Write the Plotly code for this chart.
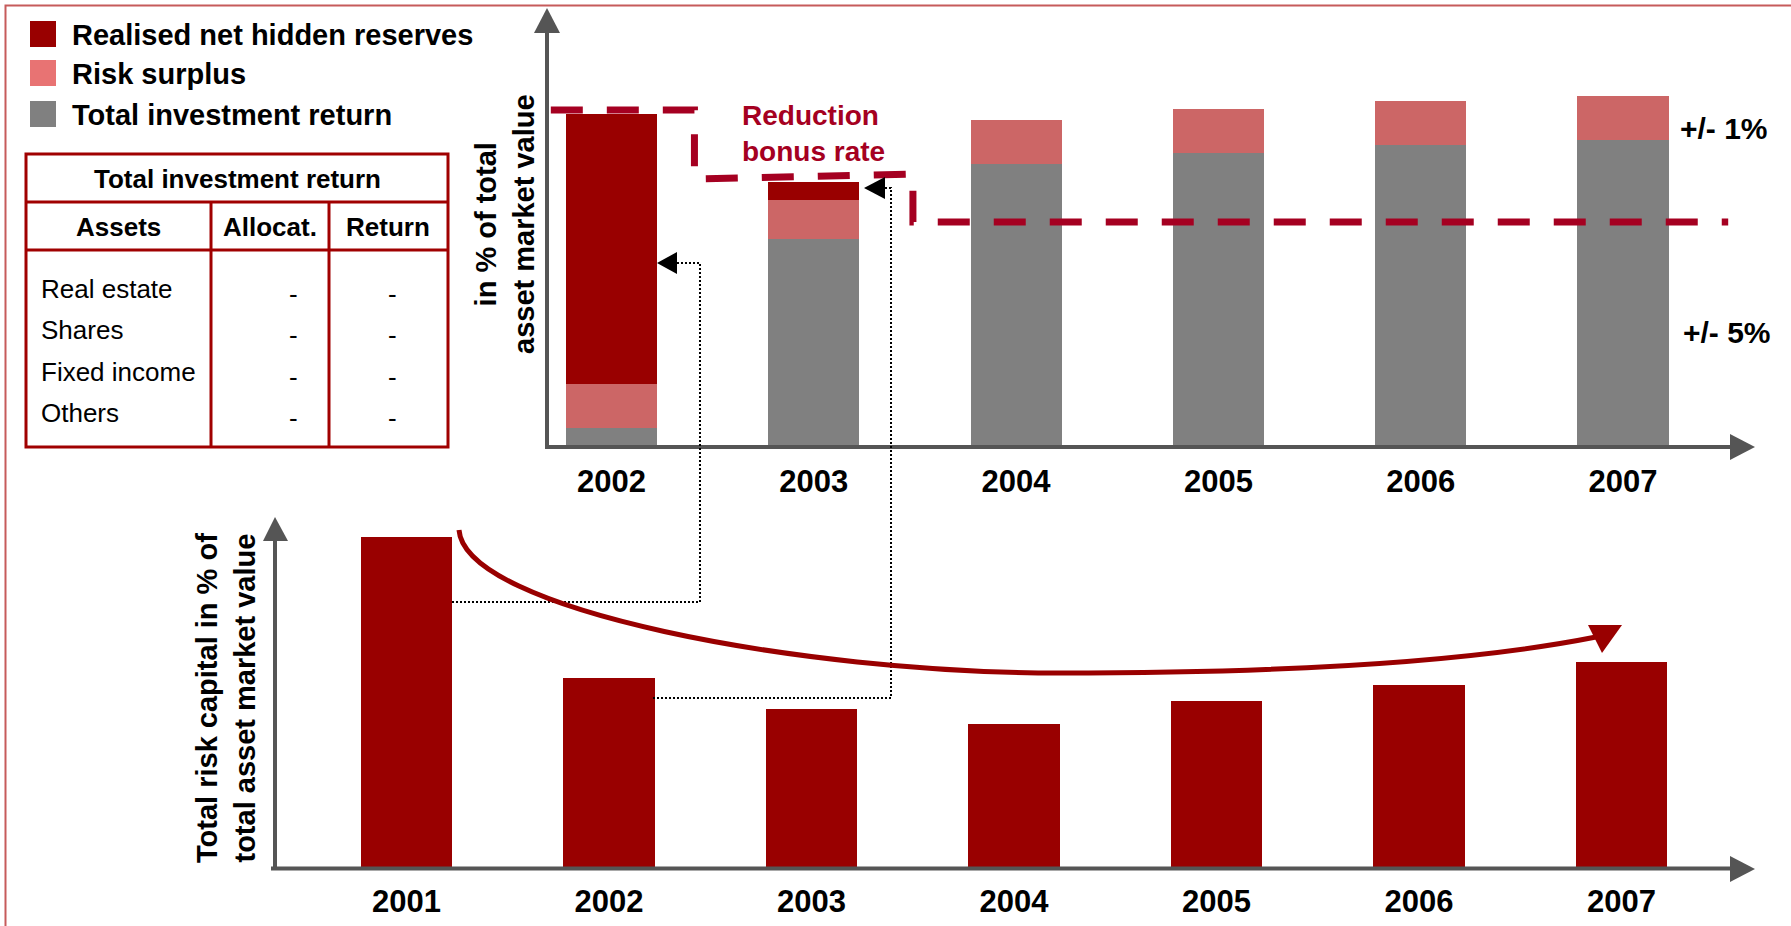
import plotly.graph_objects as go

W, H = 1791, 926
FONT = "Liberation Sans, Arial, sans-serif"

# ---- data -------------------------------------------------------------
# Upper panel: composition of the return, in % of total asset market value
top_years = [2002, 2003, 2004, 2005, 2006, 2007]
top_labels = ["2002", "2003", "2004", "2005", "2006", "2007"]
total_return = [0.38, 4.16, 5.66, 5.88, 6.04, 6.14]
risk_surplus = [0.88, 0.78, 0.88, 0.88, 0.88, 0.88]
hidden_reserves = [5.40, 0.36, 0.0, 0.0, 0.0, 0.0]

# Bonus-rate reduction (stepped dashed line)
bonus_x = [2001.70, 2002.41, 2002.41, 2003.49, 2003.49, 2007.52]
bonus_y = [6.74, 6.74, 5.36, 5.46, 4.50, 4.50]

# Lower panel: total risk capital in % of total asset market value
risk_years = [2001, 2002, 2003, 2004, 2005, 2006, 2007]
risk_labels = ["2001", "2002", "2003", "2004", "2005", "2006", "2007"]
risk_capital = [6.60, 3.78, 3.16, 2.86, 3.32, 3.64, 4.10]

# Asset table
table_title = "Total investment return"
table_columns = ["Assets", "Allocat.", "Return"]
table_assets = ["Real estate", "Shares", "Fixed income", "Others"]
table_alloc = ["-", "-", "-", "-"]
table_return = ["-", "-", "-", "-"]

legend_names = ["Realised net hidden reserves", "Risk surplus", "Total investment return"]

# ---- colours ----------------------------------------------------------
DARK = "#990000"
PINK = "#CC6666"
PINK_KEY = "#E87373"
GRAY = "#808080"
BONUS = "#A50021"
AXIS = "#555555"
FRAME = "#C65B5B"
TABLE = "#A00000"


def px(x):
    return x / W


def py(y):
    return 1 - y / H


def pt(x, y):
    return f"{px(x):.5f},{py(y):.5f}"


def poly(points):
    return "M " + " L ".join(pt(x, y) for x, y in points) + " Z"


fig = go.Figure()

BAR_W_TOP = 0.45
for vals, col, name in [(total_return, GRAY, legend_names[2]),
                        (risk_surplus, PINK, legend_names[1]),
                        (hidden_reserves, DARK, legend_names[0])]:
    fig.add_trace(go.Bar(x=top_years, y=vals, width=BAR_W_TOP, marker=dict(color=col, line=dict(width=0)),
                         name=name, xaxis="x", yaxis="y", showlegend=False, hoverinfo="skip"))

fig.add_trace(go.Scatter(x=bonus_x, y=bonus_y, mode="lines", xaxis="x", yaxis="y",
                         line=dict(color=BONUS, width=7, dash="32px,24px"),
                         showlegend=False, hoverinfo="skip"))

fig.add_trace(go.Bar(x=risk_years, y=risk_capital, width=0.45, marker=dict(color=DARK, line=dict(width=0)),
                     xaxis="x2", yaxis="y2", showlegend=False, hoverinfo="skip"))

# ---- axes: pixel frame of each panel ----------------------------------
UNIT = 50.0  # pixels per percentage point
top_x0, top_x1, top_c0, step_top = 547, 1755, 611.5, 202.3
top_base, top_top = 447, 8
bot_x0, bot_x1, bot_c0, step_bot = 273, 1755, 406.5, 202.5
bot_base, bot_top = 867, 517

tick_font = dict(family=FONT, size=31, color="black", weight="bold")

fig.update_layout(
    width=W, height=H, margin=dict(l=0, r=0, t=0, b=0),
    paper_bgcolor="white", plot_bgcolor="rgba(0,0,0,0)",
    barmode="stack", showlegend=False,
    xaxis=dict(domain=[px(top_x0), px(top_x1)],
               range=[2002 - (top_c0 - top_x0) / step_top, 2002 + (top_x1 - top_c0) / step_top],
               tickvals=top_years, ticktext=top_labels, tickfont=tick_font,
               ticks="", showline=False, showgrid=False, zeroline=False,
               ticklabelstandoff=13, anchor="y", fixedrange=True),
    yaxis=dict(domain=[py(top_base), py(top_top)], range=[0, (top_base - top_top) / UNIT],
               visible=False, anchor="x", fixedrange=True),
    xaxis2=dict(domain=[px(bot_x0), px(bot_x1)],
                range=[2001 - (bot_c0 - bot_x0) / step_bot, 2001 + (bot_x1 - bot_c0) / step_bot],
                tickvals=risk_years, ticktext=risk_labels, tickfont=tick_font,
                ticks="", showline=False, showgrid=False, zeroline=False,
                ticklabelstandoff=13, anchor="y2", fixedrange=True),
    yaxis2=dict(domain=[py(bot_base), py(bot_top)], range=[0, (bot_base - bot_top) / UNIT],
                visible=False, anchor="x2", fixedrange=True),
)

shapes = []


def line(x0, y0, x1, y1, color, width, dash=None, layer="above"):
    d = dict(type="line", xref="paper", yref="paper", x0=px(x0), y0=py(y0), x1=px(x1), y1=py(y1),
             line=dict(color=color, width=width), layer=layer)
    if dash:
        d["line"]["dash"] = dash
    shapes.append(d)


def tri(points, color):
    shapes.append(dict(type="path", xref="paper", yref="paper", path=poly(points),
                       fillcolor=color, line=dict(color=color, width=0), layer="above"))


# slide frame (left and top edges)
shapes.append(dict(type="path", xref="paper", yref="paper",
                   path=f"M {pt(5.5, 926)} L {pt(5.5, 5.5)} L {pt(1791, 5.5)}",
                   line=dict(color=FRAME, width=2)))

# upper panel axes with arrowheads
line(547, 449, 547, 30, AXIS, 4)
tri([(547, 8), (534, 33), (560, 33)], AXIS)
line(545, 447, 1732, 447, AXIS, 4)
tri([(1755, 447), (1730, 434), (1730, 460)], AXIS)

# lower panel axes with arrowheads
line(275, 870, 275, 538, AXIS, 4)
tri([(275, 517), (263, 541), (288, 541)], AXIS)
line(271, 868.5, 1732, 868.5, AXIS, 4)
tri([(1755, 869), (1730, 856), (1730, 882)], AXIS)

# dotted connectors from lower bars to upper bars
shapes.append(dict(type="path", xref="paper", yref="paper",
                   path=f"M {pt(452, 602)} L {pt(700, 602)} L {pt(700, 263)} L {pt(676, 263)}",
                   line=dict(color="black", width=2, dash="2px,2px")))
tri([(657, 263), (677, 252), (677, 274)], "black")
shapes.append(dict(type="path", xref="paper", yref="paper",
                   path=f"M {pt(653, 698)} L {pt(891, 698)} L {pt(891, 188)} L {pt(884, 188)}",
                   line=dict(color="black", width=2, dash="2px,2px")))
tri([(864, 188), (885, 177), (885, 199)], "black")

# sweeping trend arrow over the lower panel
shapes.append(dict(type="path", xref="paper", yref="paper",
                   path=(f"M {pt(459, 530)} C {pt(465, 610)} {pt(800, 673)} {pt(1060, 673)} "
                         f"C {pt(1300, 673)} {pt(1480, 660)} {pt(1596, 637)}"),
                   line=dict(color=DARK, width=5)))
tri([(1588, 625), (1622, 625), (1602, 653)], DARK)

# legend keys
for (y0, y1), col in zip([(21, 47), (60, 86), (101, 127)], [DARK, PINK_KEY, GRAY]):
    shapes.append(dict(type="rect", xref="paper", yref="paper", x0=px(30), x1=px(56), y0=py(y1), y1=py(y0),
                       fillcolor=col, line=dict(width=0)))

# table grid
shapes.append(dict(type="rect", xref="paper", yref="paper", x0=px(26), x1=px(448), y0=py(447), y1=py(154),
                   line=dict(color=TABLE, width=3)))
line(26, 202, 448, 202, TABLE, 3)
line(26, 250, 448, 250, TABLE, 3)
line(211, 202, 211, 447, TABLE, 3)
line(329, 202, 329, 447, TABLE, 3)

fig.update_layout(shapes=shapes)

ann = []


def text(x, y, s, size, color="black", bold=False, xanchor="center", angle=0, align="center"):
    ann.append(dict(x=px(x), y=py(y), xref="paper", yref="paper", text=f"<b>{s}</b>" if bold else s,
                    showarrow=False, xanchor=xanchor, yanchor="middle", textangle=angle, align=align,
                    font=dict(family=FONT, size=size, color=color)))


for name, y in zip(legend_names, [35, 74, 115]):
    text(70, y, name, 29, bold=True, xanchor="left")

text(237, 179, table_title, 26, bold=True)
for name, x in zip(table_columns, [118, 270, 388]):
    text(x, 227, name, 26, bold=True)
for i, (a, al, r) in enumerate(zip(table_assets, table_alloc, table_return)):
    y = 289 + i * 41.3
    text(39, y, a, 26, xanchor="left")
    text(293, y + 5, al, 26)
    text(392, y + 5, r, 26)

text(505, 224, "in % of total<br>asset market value", 29, bold=True, angle=-90)
text(226, 698, "Total risk capital in % of<br>total asset market value", 29, bold=True, angle=-90)
text(740, 134, "Reduction<br>bonus rate", 28, color=BONUS, bold=True, xanchor="left", align="left")
text(1724, 128, "+/- 1%", 30, bold=True)
text(1727, 333, "+/- 5%", 30, bold=True)

fig.update_layout(annotations=ann)

fig.write_html("out.html")
